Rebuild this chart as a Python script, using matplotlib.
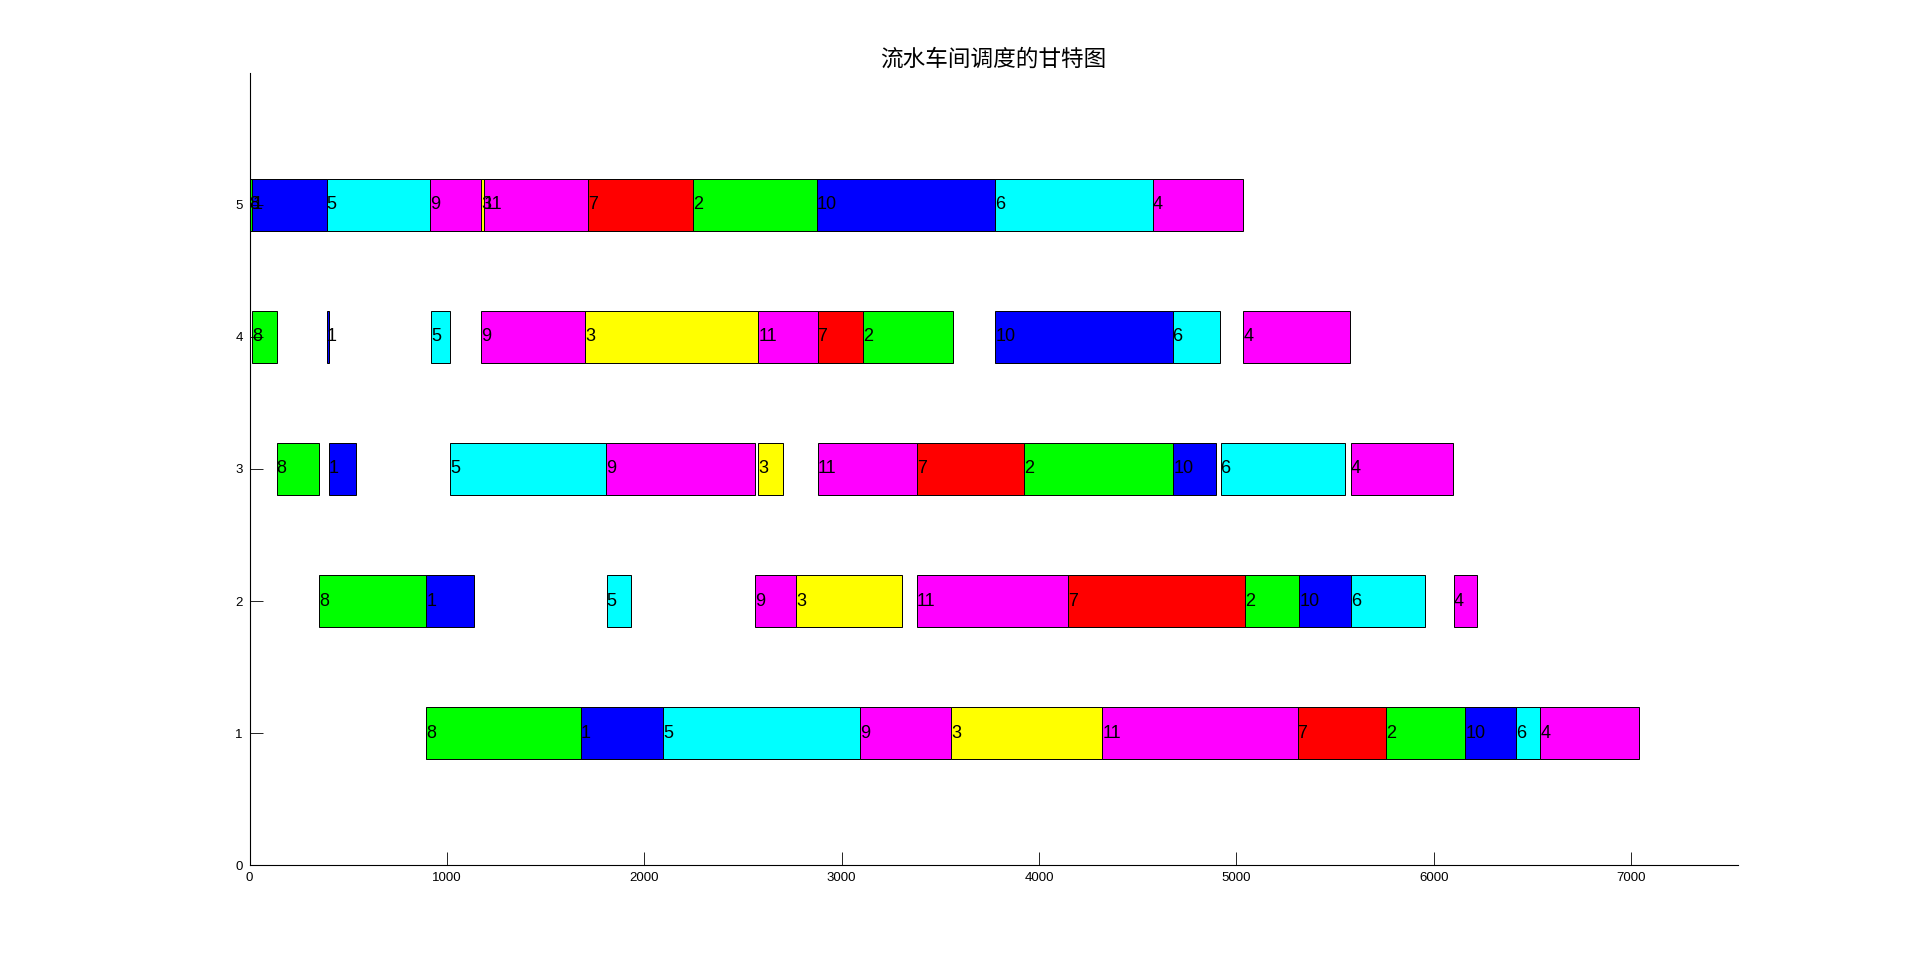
import matplotlib
matplotlib.use("Agg")
import matplotlib.pyplot as plt

# job order on every machine
jobs = [8, 1, 5, 9, 3, 11, 7, 2, 10, 6, 4]

# colour of each job's blocks
job_colors = {
    8: "#00ff00", 1: "#0000ff", 5: "#00ffff", 9: "#ff00ff", 3: "#ffff00",
    11: "#ff00ff", 7: "#ff0000", 2: "#00ff00", 10: "#0000ff", 6: "#00ffff",
    4: "#ff00ff",
}

# start / end times per machine (row), same order as jobs
m5_start = [0, 13, 390, 915, 1172, 1187, 1713, 2245, 2874, 3779, 4577]
m5_end = [13, 390, 915, 1172, 1187, 1713, 2245, 2874, 3779, 4577, 5034]

m4_start = [13, 390, 919, 1175, 1701, 2578, 2878, 3110, 3779, 4677, 5036]
m4_end = [137, 400, 1016, 1701, 2578, 2878, 3110, 3562, 4677, 4919, 5577]

m3_start = [137, 401, 1018, 1805, 2578, 2878, 3380, 3925, 4681, 4920, 5580]
m3_end = [353, 541, 1805, 2562, 2702, 3380, 3925, 4681, 4895, 5553, 6099]

m2_start = [352, 895, 1809, 2562, 2769, 3382, 4147, 5046, 5320, 5581, 6102]
m2_end = [895, 1137, 1931, 2769, 3305, 4147, 5046, 5320, 5581, 5954, 6220]

m1_start = [896, 1679, 2095, 3093, 3554, 4321, 5310, 5760, 6161, 6419, 6541]
m1_end = [1679, 2095, 3093, 3554, 4321, 5310, 5760, 6161, 6419, 6541, 7041]

machines = {
    1: (m1_start, m1_end),
    2: (m2_start, m2_end),
    3: (m3_start, m3_end),
    4: (m4_start, m4_end),
    5: (m5_start, m5_end),
}

title = "流水车间调度的甘特图"

fig = plt.figure(figsize=(19.2, 9.72), dpi=100)
ax = fig.add_axes([0.13, 0.11, 0.775, 0.815])

for row, (starts, ends) in machines.items():
    for job, s, e in zip(jobs, starts, ends):
        ax.barh(row, e - s, left=s, height=0.4, color=job_colors[job],
                edgecolor="black", linewidth=0.7)
    for job, s in zip(jobs, starts):
        ax.text(s, row, str(job), ha="left", va="center", fontsize=13,
                family="Liberation Sans", color="black")

ax.set_xlim(0, 7540)
ax.set_ylim(0, 6)
ax.set_xticks(range(0, 7001, 1000))
ax.set_yticks(range(0, 6))

for side in ["top", "right"]:
    ax.spines[side].set_visible(False)
for side in ["left", "bottom"]:
    ax.spines[side].set_linewidth(0.8)

ax.tick_params(direction="in", length=9.7, width=0.6, labelsize=9.5, pad=5)
for lbl in ax.get_xticklabels() + ax.get_yticklabels():
    lbl.set_family("Liberation Sans")

ax.set_title(title, fontsize=16.3, family=["Noto Sans CJK SC", "DejaVu Sans"],
             pad=5)

fig.savefig("out.png", dpi=100)
